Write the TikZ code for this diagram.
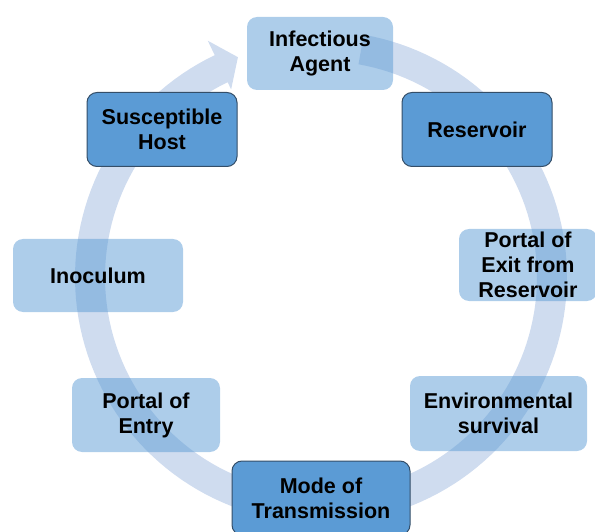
\documentclass[tikz,border=0pt]{standalone}
\usepackage{fontspec}
\setmainfont{Liberation Sans}
\definecolor{boxblue}{RGB}{91,155,213}
\definecolor{bandblue}{RGB}{207,220,239}
\definecolor{edgeblue}{RGB}{52,78,104}
\begin{document}
\begin{tikzpicture}[x=1pt,y=-1pt,
  basebox/.style={rounded corners=10pt, align=center, text=black,
    font=\bfseries\fontsize{21.5}{25}\selectfont, inner sep=0pt},
  lightbox/.style={basebox, fill=boxblue, fill opacity=0.5, text opacity=1},
  darkbox/.style={basebox, fill=boxblue, draw=edgeblue, line width=1pt}]
\useasboundingbox (0,0) rectangle (595,532);
\clip (0,0) rectangle (595,532);
% circular arrow band
\fill[bandblue]
  plot[domain=-80:244.4,samples=150] ({321+246*cos(\x)},{277+246*sin(\x)})
  -- ({321+262*cos(244.4)},{277+262*sin(244.4)})
  -- ({321+235*cos(249.3)},{277+235*sin(249.3)})
  -- ({321+208*cos(244.4)},{277+208*sin(244.4)})
  -- plot[domain=244.4:-80,samples=150] ({321+216*cos(\x)},{277+216*sin(\x)})
  -- cycle;
% boxes
\node[lightbox, minimum width=146pt, minimum height=73pt] (agent) at (320,53.5) {Infectious\\Agent};
\node[darkbox, minimum width=150pt, minimum height=74pt] (res) at (477,129.5) {Reservoir};
\node[lightbox, minimum width=138pt, minimum height=72pt] (exit) at (528,265) {Portal of\\Exit from\\Reservoir};
\node[lightbox, minimum width=177pt, minimum height=75pt] (env) at (498.5,413.5) {Environmental\\survival};
\node[darkbox, minimum width=178pt, minimum height=74pt] (mode) at (321,498) {Mode of\\Transmission};
\node[lightbox, minimum width=148pt, minimum height=74pt] (entry) at (146,415) {Portal of\\Entry};
\node[lightbox, minimum width=170pt, minimum height=73pt] (inoc) at (98,275.5) {Inoculum};
\node[darkbox, minimum width=150pt, minimum height=74pt] (host) at (162,129.5) {Susceptible\\Host};
\end{tikzpicture}
\end{document}
